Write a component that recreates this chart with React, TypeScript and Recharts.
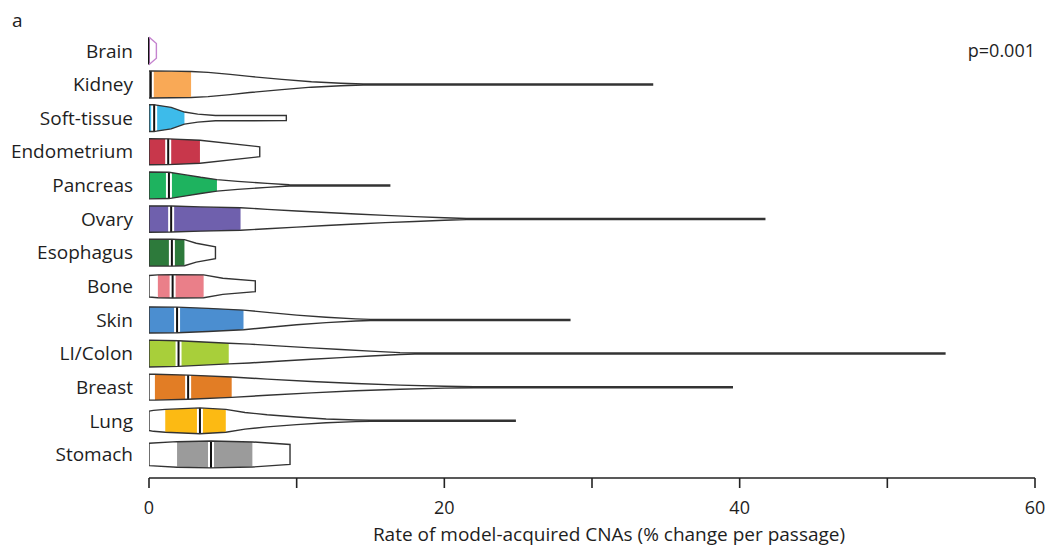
import React from 'react';
import { ComposedChart, Area, Scatter, XAxis, YAxis, ReferenceLine } from 'recharts';

const CATEGORIES = ['Brain', 'Kidney', 'Soft-tissue', 'Endometrium', 'Pancreas', 'Ovary', 'Esophagus', 'Bone', 'Skin', 'LI/Colon', 'Breast', 'Lung', 'Stomach'];
const COLORS = ['#C584CF', '#F9A956', '#3DBBEA', '#C8374B', '#1EB35F', '#6F60AD', '#2D7A3B', '#EA7F89', '#4B8ED0', '#A8CF3A', '#E27D25', '#FCBA13', '#9B9B9B'];
const OUTLINE = ['#C584CF', '#333', '#333', '#333', '#333', '#333', '#333', '#333', '#333', '#333', '#333', '#333', '#333'];
const Q1 = [0, 0, 0, 0, 0, 0, 0, 0.6, 0, 0, 0.4, 1.1, 1.9];
const MEDIANS = [0, 0.12, 0.35, 1.3, 1.35, 1.5, 1.55, 1.6, 1.9, 2.0, 2.65, 3.45, 4.2];
const Q3 = [0, 2.85, 2.4, 3.45, 4.6, 6.2, 2.4, 3.7, 6.4, 5.4, 5.6, 5.2, 7.0];

// density profiles: [rate, relative density]
const BRAIN = [[0, 1.02], [0.5, 0.55]];
const KIDNEY = [[0, 1.0], [0.12, 1.0], [1.5, 0.99], [2.85, 0.97], [4, 0.9], [5.5, 0.75], [6.8, 0.6], [9, 0.38], [11, 0.2], [13, 0.09], [14.5, 0.04], [34.1, 0.04]];
const SOFT_TISSUE = [[0, 1.0], [0.35, 0.99], [0.5, 0.97], [1.5, 0.8], [2.4, 0.45], [3.3, 0.3], [4.5, 0.2], [9.3, 0.19]];
const ENDOMETRIUM = [[0, 0.97], [1.3, 0.96], [3.45, 0.85], [7.5, 0.37]];
const PANCREAS = [[0, 1.0], [1.35, 0.98], [2.5, 0.78], [3.5, 0.6], [4.6, 0.43], [6, 0.3], [8, 0.15], [9.5, 0.05], [16.3, 0.04]];
const OVARY = [[0, 0.98], [1.5, 0.97], [3.5, 0.9], [6.2, 0.84], [8, 0.72], [10, 0.6], [12, 0.48], [14, 0.37], [16, 0.27], [18, 0.18], [20, 0.09], [21.5, 0.04], [41.7, 0.04]];
const ESOPHAGUS = [[0, 1.0], [1.55, 1.0], [2.4, 0.97], [3.2, 0.7], [4.5, 0.44]];
const BONE = [[0, 0.8], [0.6, 0.85], [1.6, 0.87], [3.7, 0.85], [5, 0.6], [7.2, 0.4]];
const SKIN = [[0, 0.97], [1.9, 0.95], [4, 0.86], [6.4, 0.73], [8, 0.56], [10, 0.36], [12, 0.2], [14, 0.08], [15, 0.04], [28.5, 0.04]];
const LI_COLON = [[0, 1.0], [2.0, 0.95], [5.4, 0.77], [6.8, 0.7], [9, 0.55], [11, 0.42], [13, 0.3], [15, 0.18], [17, 0.07], [18, 0.04], [53.9, 0.04]];
const BREAST = [[0, 0.96], [0.4, 0.96], [2.65, 0.9], [5.6, 0.76], [8, 0.6], [11, 0.42], [14, 0.27], [17, 0.15], [20, 0.07], [22, 0.04], [39.5, 0.04]];
const LUNG = [[0, 0.72], [0.3, 0.78], [1.1, 0.85], [3.45, 0.96], [5.2, 0.85], [6.5, 0.62], [8, 0.45], [10, 0.28], [12, 0.14], [14, 0.06], [15, 0.04], [24.8, 0.04]];
const STOMACH = [[0, 0.83], [1.9, 0.95], [4.2, 1.0], [7, 0.93], [9.55, 0.74]];

const PROFILES = [BRAIN, KIDNEY, SOFT_TISSUE, ENDOMETRIUM, PANCREAS, OVARY, ESOPHAGUS, BONE, SKIN, LI_COLON, BREAST, LUNG, STOMACH];

const X_TICKS = [0, 10, 20, 30, 40, 50, 60];
const Y_TICKS = CATEGORIES.map((_, i) => i);
const K = 0.4;
const FONT = '"Open Sans", sans-serif';

function outlinePoints(i: number) {
  const p = PROFILES[i];
  const top = p.map(([x, d]) => ({ x, y: i - d * K }));
  const bot = p.slice().reverse().map(([x, d]) => ({ x, y: i + d * K }));
  return [...top, ...bot, top[0]];
}
function iqrData(i: number) {
  return PROFILES[i]
    .filter(([x]) => x >= Q1[i] && x <= Q3[i])
    .map(([x, d]) => ({ x, r: [i - d * K, i + d * K] }));
}
function medianHalf(i: number) {
  const pt = PROFILES[i].find(([x]) => x === MEDIANS[i]);
  return pt ? pt[1] * K : K;
}

const NoShape = () => <g />;

export default function App() {
  return (
    <div style={{ padding: '8px 0 0 8px', width: 1040, height: 542 }}>
      <style>{'html{overflow:hidden} body{margin:0} svg.recharts-surface{overflow:visible}'}</style>
      <div style={{ position: 'relative', width: 1040, height: 542, fontFamily: FONT, color: '#1e1e1e' }}>
        <div style={{ position: 'absolute', left: 4, top: 1, fontSize: 19, lineHeight: '22px' }}>a</div>
        <div style={{ position: 'absolute', right: 13, top: 31, fontSize: 18, lineHeight: '22px' }}>p=0.001</div>
        <ComposedChart width={1040} height={542} margin={{ top: 22, right: 13, bottom: 6, left: 0 }} style={{ overflow: 'visible' }}>
          <XAxis
            type="number"
            dataKey="x"
            domain={[0, 60]}
            ticks={X_TICKS}
            interval={0}
            tickFormatter={(v: number) => (v % 20 === 0 ? String(v) : '')}
            tickSize={10}
            tickMargin={13}
            height={66}
            allowDataOverflow
            axisLine={{ stroke: '#222', strokeWidth: 1.6 }}
            tickLine={{ stroke: '#222', strokeWidth: 1.6 }}
            tick={{ fill: '#1e1e1e', fontSize: 18, fontFamily: FONT }}
            label={{ value: 'Rate of model-acquired CNAs (% change per passage)', position: 'insideBottom', offset: 3, dx: 17, fill: '#1e1e1e', fontSize: 19, fontFamily: FONT }}
          />
          <YAxis
            type="number"
            dataKey="y"
            domain={[-0.62, 12.7]}
            reversed
            ticks={Y_TICKS}
            interval={0}
            tickFormatter={(v: number) => CATEGORIES[v] ?? ''}
            width={141}
            axisLine={false}
            tickLine={false}
            tickSize={0}
            tickMargin={16}
            allowDataOverflow
            tick={{ fill: '#1e1e1e', fontSize: 19, fontFamily: FONT }}
          />
          {CATEGORIES.map((c, i) =>
            Q3[i] > Q1[i] ? (
              <Area
                key={'iqr-' + c}
                data={iqrData(i)}
                dataKey="r"
                type="linear"
                fill={COLORS[i]}
                fillOpacity={1}
                stroke="none"
                dot={false}
                activeDot={false}
                isAnimationActive={false}
              />
            ) : null
          )}
          {CATEGORIES.map((c, i) => (
            <ReferenceLine
              key={'mw-' + c}
              segment={[{ x: MEDIANS[i], y: i - medianHalf(i) }, { x: MEDIANS[i], y: i + medianHalf(i) }]}
              stroke="#fff"
              strokeWidth={6}
              ifOverflow="visible"
            />
          ))}
          {CATEGORIES.map((c, i) => (
            <ReferenceLine
              key={'mb-' + c}
              segment={[{ x: MEDIANS[i], y: i - medianHalf(i) }, { x: MEDIANS[i], y: i + medianHalf(i) }]}
              stroke="#111"
              strokeWidth={2}
              ifOverflow="visible"
            />
          ))}
          {CATEGORIES.map((c, i) => (
            <Scatter
              key={'ol-' + c}
              data={outlinePoints(i)}
              line={{ stroke: OUTLINE[i], strokeWidth: 1.4 }}
              lineType="joint"
              shape={NoShape}
              isAnimationActive={false}
            />
          ))}
        </ComposedChart>
      </div>
    </div>
  );
}
